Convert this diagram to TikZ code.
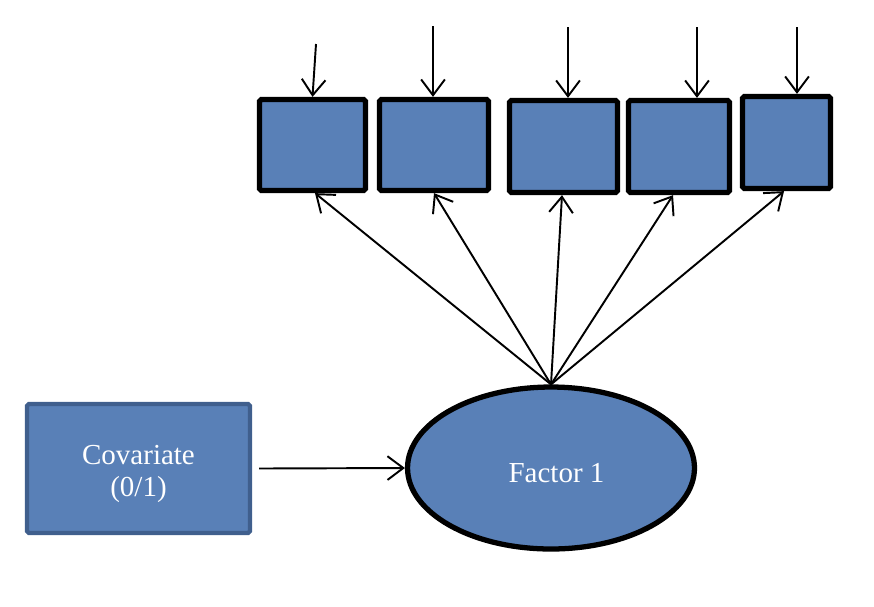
\documentclass[tikz,border=0pt]{standalone}
\usepackage{fontspec}
\setmainfont{Liberation Serif}
\usetikzlibrary{positioning,arrows.meta,shapes.geometric}

\definecolor{itemblue}{RGB}{89,128,183}
\definecolor{covborder}{RGB}{64,95,141}

\tikzset{
  item/.style={draw=black, fill=itemblue, line width=3pt, rounded corners=1pt, inner sep=0pt},
  latent/.style={ellipse, draw=black, fill=itemblue, line width=3pt, inner sep=0pt,
    minimum width=5.74cm, minimum height=3.24cm, text=white},
  cov/.style={draw=covborder, fill=itemblue, line width=2.4pt, rounded corners=1pt, inner sep=0pt,
    minimum width=4.46cm, minimum height=2.58cm, text=white, align=center},
  path/.style={line width=1.1pt, -{Straight Barb[length=9pt,width=13.5pt,line width=1.1pt]}}
}

\begin{document}
\begin{tikzpicture}[x=0.02cm,y=-0.02cm]
\useasboundingbox (0,0) rectangle (874,606);

\node[item, minimum width=2.12cm, minimum height=1.82cm] (y1) at (312.5,145) {};
\node[item, minimum width=2.18cm, minimum height=1.82cm] (y2) at (434,145) {};
\node[item, minimum width=2.16cm, minimum height=1.84cm] (y3) at (563.5,146.5) {};
\node[item, minimum width=2.02cm, minimum height=1.84cm] (y4) at (679,146.5) {};
\node[item, minimum width=1.76cm, minimum height=1.84cm] (y5) at (786.5,142.5) {};

\node[latent, font=\fontsize{16.5}{19}\selectfont, text height=0.58cm, text depth=0pt] (f1) at (551,468) {\hspace*{0.22cm}Factor 1};
\node[cov, font=\fontsize{16.5}{18.5}\selectfont] (cv) at (138.5,468.5) {\\[-0.05cm]Covariate\\(0/1)};

\coordinate (e1) at (316,44);
\coordinate (e2) at (433,26);
\coordinate (e3) at (568,27);
\coordinate (e4) at (697,27);
\coordinate (e5) at (797,27);

\draw[path] (e1) -- (y1.north);
\draw[path] (e2) -- (e2 |- y2.north);
\draw[path] (e3) -- (e3 |- y3.north);
\draw[path] (e4) -- (e4 |- y4.north);
\draw[path] (e5) -- (e5 |- y5.north);

\draw[path] (f1.north) -- ([xshift=0.05cm]y1.south);
\draw[path] (f1.north) -- (y2.south);
\draw[path] (f1.north) -- ([xshift=-0.03cm]y3.south);
\draw[path] (f1.north) -- ([xshift=-0.12cm]y4.south);
\draw[path] (f1.north) -- ([xshift=-0.05cm]y5.south);

\draw[path] ([xshift=0.14cm]cv.east) -- (f1.west);

\end{tikzpicture}
\end{document}
